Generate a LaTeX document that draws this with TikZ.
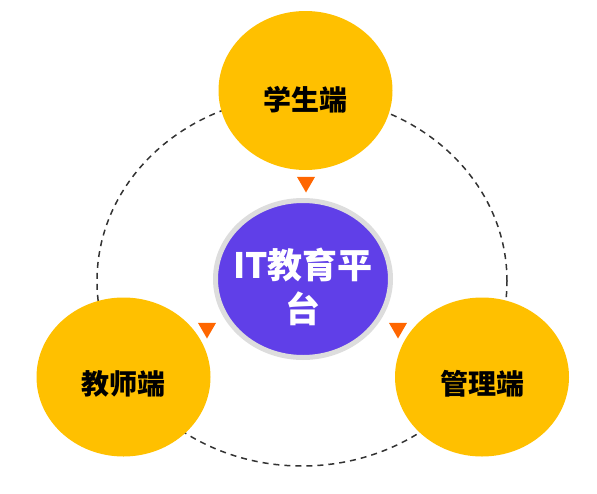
\documentclass[tikz,border=0pt]{standalone}
\usepackage{fontspec}
\newfontfamily\cjk{Noto Sans CJK SC}
\usetikzlibrary{shapes.geometric}
\definecolor{gold}{HTML}{FFC000}
\definecolor{violet}{HTML}{603FE8}
\definecolor{ring}{HTML}{DDDDDD}
\definecolor{tip}{HTML}{FF6600}
\definecolor{dashgray}{HTML}{333333}
\begin{document}
\begin{tikzpicture}[x=1pt, y=-1pt,
	client/.style={ellipse, fill=gold, minimum width=174pt, minimum height=159pt, inner sep=0pt},
	tag/.style={inner sep=0pt, font=\cjk\bfseries\fontsize{28}{32}\selectfont},
	marker/.style={regular polygon, regular polygon sides=3, shape border rotate=180, fill=tip, minimum size=21pt, inner sep=0pt}]
	\useasboundingbox (0,0) rectangle (597,493);
	\draw[dashgray, line width=1.5pt, dash pattern=on 6pt off 5pt] (302,281) ellipse [x radius=205pt, y radius=185pt];
	\node[client] (student) at (305.5,90.5) {};
	\node[client] (teacher) at (123.5,377) {};
	\node[client] (admin) at (482,377) {};
	\node[tag] (studenttext) at ([yshift=-9pt]student.center) {学生端};
	\node[tag] (teachertext) at ([yshift=-7pt]teacher.center) {教师端};
	\node[tag] (admintext) at ([yshift=-7pt]admin.center) {管理端};
	\node[ellipse, fill=violet, draw=ring, line width=5pt, minimum width=175pt, minimum height=157pt, inner sep=0pt] (platform) at (303,279) {};
	\node[align=center, text=white, inner sep=0pt, font=\cjk\bfseries\fontsize{35}{44}\selectfont] (platformtext) at ([yshift=-8pt]platform.center) {IT教育平\\台};
	\node[marker] (topmark) at (306,182) {};
	\node[marker] (leftmark) at (207,328) {};
	\node[marker] (rightmark) at (398,328) {};
\end{tikzpicture}
\end{document}
